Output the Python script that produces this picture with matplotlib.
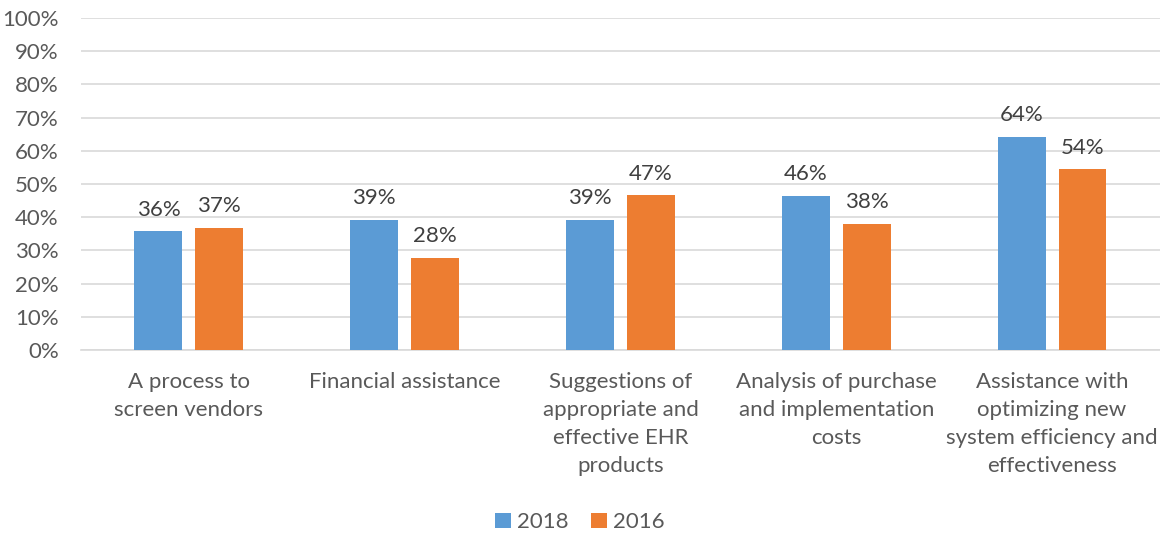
import matplotlib
matplotlib.use("Agg")
import matplotlib.pyplot as plt
import numpy as np

categories = ["A process to\nscreen vendors", "Financial assistance",
              "Suggestions of\nappropriate and\neffective EHR\nproducts",
              "Analysis of purchase\nand implementation\ncosts",
              "Assistance with\noptimizing new\nsystem efficiency and\neffectiveness"]
series_names = ["2018", "2016"]
values_2018 = [35.8, 39.3, 39.3, 46.4, 64.3]
values_2016 = [36.8, 27.7, 46.6, 38.0, 54.4]
yticks = list(range(0, 101, 10))

plt.rcParams['font.family'] = ['Lato', 'DejaVu Sans']
txt = '#595959'
fs = 16
fig = plt.figure(figsize=(11.6, 5.33), dpi=100)
ax = fig.add_axes([0.0698, 0.3433, 0.9302, 0.6229])
x = np.arange(len(categories))
w = 0.222
off = 0.141
b1 = ax.bar(x - off, values_2018, w, color='#5B9BD5', label=series_names[0], zorder=3)
b2 = ax.bar(x + off, values_2016, w, color='#ED7D31', label=series_names[1], zorder=3)
for bars, vals in ((b1, values_2018), (b2, values_2016)):
    for r, v in zip(bars, vals):
        ax.text(r.get_x() + r.get_width()/2, v + 3.5, f"{round(v)}%", ha='center', va='bottom',
                fontsize=fs, color='#404040')
ax.set_xlim(-0.5, 4.5)
ax.set_ylim(0, 100)
ax.set_yticks(yticks)
ax.set_yticklabels([f"{t}%" for t in yticks], fontsize=fs, color=txt)
ax.set_xticks(x)
ax.set_xticklabels(categories, fontsize=fs, color=txt, linespacing=1.5, va='top')
ax.tick_params(axis='both', length=0)
ax.tick_params(axis='x', pad=16)
ax.tick_params(axis='y', pad=16)
ax.yaxis.grid(True, color='#D9D9D9', linewidth=1.2, zorder=0)
for s in ['left', 'right', 'top']:
    ax.spines[s].set_visible(False)
ax.spines['bottom'].set_color('#D9D9D9')
ax.spines['bottom'].set_linewidth(1.2)
leg = fig.legend(handles=[b1, b2], labels=series_names, loc='center', bbox_to_anchor=(0.5, 0.02),
                 ncol=2, frameon=False, fontsize=fs, handlelength=0.7, handleheight=0.7,
                 handletextpad=0.3, columnspacing=1.0)
for t in leg.get_texts():
    t.set_color(txt)
fig.savefig("out.png", dpi=100)
